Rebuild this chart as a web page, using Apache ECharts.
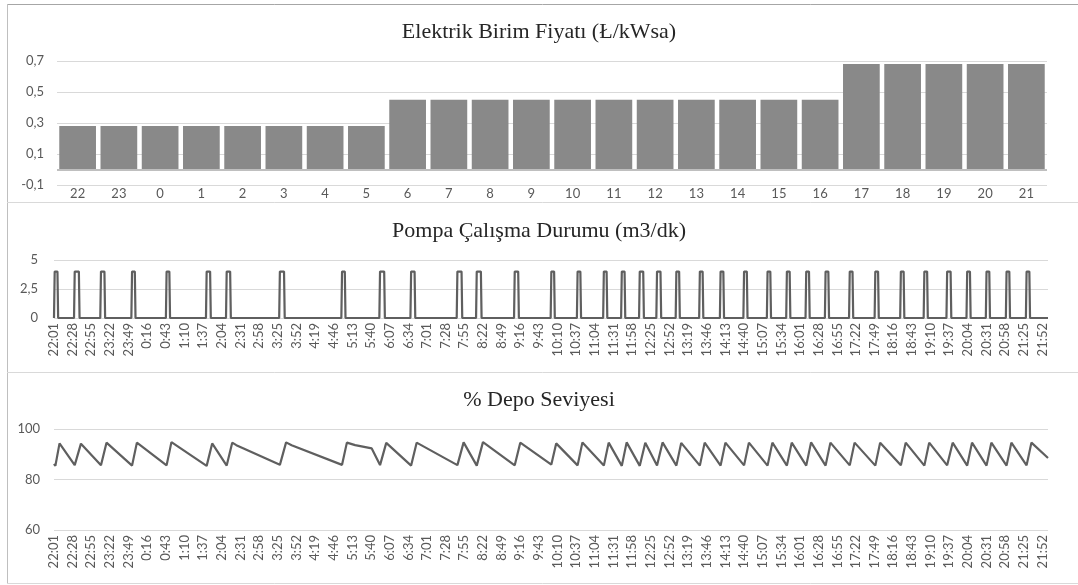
<!DOCTYPE html>
<html>
<head>
<meta charset="utf-8">
<script src="https://cdn.jsdelivr.net/npm/echarts@6/dist/echarts.min.js"></script>
<style>
  html, body { margin: 0; padding: 0; background: #fff; }
  #chart { width: 1078px; height: 585px; }
</style>
</head>
<body>
<div id="chart"></div>
<script>
// hourly price categories and values (TL/kWh)
const hours = ['22', '23', '0', '1', '2', '3', '4', '5', '6', '7', '8', '9', '10', '11',
  '12', '13', '14', '15', '16', '17', '18', '19', '20', '21'];
const prices = [0.28, 0.28, 0.28, 0.28, 0.28, 0.28, 0.28, 0.28, 0.45, 0.45, 0.45, 0.45,
  0.45, 0.45, 0.45, 0.45, 0.45, 0.45, 0.45, 0.68, 0.68, 0.68, 0.68, 0.68];

// time axis labels, one every 27 minutes starting 22:01
const timeTicks = ['22:01', '22:28', '22:55', '23:22', '23:49', '0:16', '0:43', '1:10', '1:37',
  '2:04', '2:31', '2:58', '3:25', '3:52', '4:19', '4:46', '5:13', '5:40', '6:07', '6:34', '7:01',
  '7:28', '7:55', '8:22', '8:49', '9:16', '9:43', '10:10', '10:37', '11:04', '11:31', '11:58',
  '12:25', '12:52', '13:19', '13:46', '14:13', '14:40', '15:07', '15:34', '16:01', '16:28',
  '16:55', '17:22', '17:49', '18:16', '18:43', '19:10', '19:37', '20:04', '20:31', '20:58',
  '21:25', '21:52'];
const tickStep = 27;     // minutes between labels
const lastMinute = 1439; // minutes after 22:01

// pump runs: [start minute, stop minute] after 22:01, flow in m3/min
const pumpFlow = 4;
const pumpRuns = [[0, 6], [29, 37], [67, 74], [112, 118], [162, 168], [220, 227], [249, 256],
  [326, 334], [416, 422], [471, 479], [516, 523], [583, 591], [611, 619], [666, 673],
  [719, 725], [757, 763], [795, 801], [821, 827], [847, 854], [872, 879], [900, 906],
  [934, 940], [964, 970], [998, 1004], [1032, 1038], [1060, 1066], [1088, 1094], [1116, 1122],
  [1151, 1157], [1188, 1194], [1225, 1231], [1259, 1265], [1292, 1299], [1321, 1327],
  [1349, 1355], [1378, 1384], [1407, 1413]];

// tank level (%) at [minute, level]
const tankLevel = [[0, 86.2], [2, 85.4], [8, 94.3], [30, 85.7], [39, 94.2], [68, 85.6], [76, 94.6],
  [113, 85.5], [120, 94.6], [163, 85.6], [170, 94.8], [221, 85.4], [229, 94.3], [250, 85.5],
  [258, 94.6], [264, 93.6], [327, 85.8], [336, 94.7], [344, 93.6], [417, 85.8], [424, 94.6],
  [436, 93.6], [460, 92.3], [472, 85.7], [481, 94.5], [517, 85.5], [525, 94.6], [584, 85.7],
  [593, 94.7], [612, 85.5], [621, 94.8], [667, 85.6], [675, 94.6], [720, 85.9], [727, 94.3],
  [758, 85.6], [765, 94.7], [796, 85.5], [803, 94.6], [822, 85.4], [829, 94.7], [848, 85.4],
  [856, 94.6], [873, 85.5], [881, 94.7], [901, 85.5], [908, 94.5], [935, 85.5], [942, 94.6],
  [965, 85.5], [972, 94.6], [999, 85.6], [1006, 94.6], [1033, 85.5], [1040, 94.6], [1061, 85.5],
  [1068, 94.6], [1089, 85.5], [1096, 94.7], [1117, 85.5], [1124, 94.6], [1152, 85.6],
  [1159, 94.6], [1189, 85.5], [1196, 94.6], [1226, 85.6], [1233, 94.6], [1260, 85.5],
  [1267, 94.6], [1293, 85.6], [1301, 94.6], [1322, 85.5], [1329, 94.6], [1350, 85.5],
  [1357, 94.6], [1379, 85.5], [1386, 94.6], [1408, 85.6], [1415, 94.6], [1439, 88.5]];

// step line points for the pump
const pumpData = [];
pumpRuns.forEach(([s, e]) => {
  pumpData.push([s, 0], [s + 1, pumpFlow], [e - 1, pumpFlow], [e, 0]);
});
pumpData.push([lastMinute, 0]);

const labelColor = '#595959';
const gridColor = '#d9d9d9';
const lineColor = '#5f5f5f';
const sans = 'Lato';
const serif = 'Liberation Serif';

const comma = v => String(v).replace('.', ',');
const timeLabel = v => {
  const i = v / tickStep;
  return Number.isInteger(i) && timeTicks[i] ? timeTicks[i] : '';
};

const titleStyle = { fontFamily: serif, fontSize: 22, fontWeight: 'normal', color: '#262626' };

const timeAxis = (idx, margin) => ({
  type: 'value', gridIndex: idx, min: 0, max: lastMinute, interval: tickStep,
  axisLine: { show: false }, axisTick: { show: false }, splitLine: { show: false },
  axisLabel: { rotate: 90, margin: margin, color: labelColor, fontFamily: sans, fontSize: 13,
    formatter: timeLabel, showMaxLabel: false }
});

const chart = echarts.init(document.getElementById('chart'), null, { renderer: 'canvas' });
chart.setOption({
  animation: false,
  backgroundColor: '#fff',
  title: [
    { text: 'Elektrik Birim Fiyatı (Ł/kWsa)', left: 'center', top: 16, textStyle: titleStyle },
    { text: 'Pompa Çalışma Durumu (m3/dk)', left: 'center', top: 215, textStyle: titleStyle },
    { text: '% Depo Seviyesi', left: 'center', top: 384, textStyle: titleStyle }
  ],
  graphic: [
    { type: 'line', shape: { x1: 7, y1: 4.5, x2: 1078, y2: 4.5 }, style: { stroke: '#a6a6a6', lineWidth: 1 } },
    { type: 'line', shape: { x1: 7.5, y1: 4, x2: 7.5, y2: 584 }, style: { stroke: '#bfbfbf', lineWidth: 1 } },
    { type: 'line', shape: { x1: 7, y1: 202.5, x2: 1078, y2: 202.5 }, style: { stroke: gridColor, lineWidth: 1 } },
    { type: 'line', shape: { x1: 7, y1: 372.5, x2: 1078, y2: 372.5 }, style: { stroke: gridColor, lineWidth: 1 } },
    { type: 'line', shape: { x1: 7, y1: 583.5, x2: 1078, y2: 583.5 }, style: { stroke: gridColor, lineWidth: 1 } }
  ],
  grid: [
    { left: 57, top: 61, width: 990, height: 124 },
    { left: 54, top: 260, width: 994, height: 58 },
    { left: 54, top: 429, width: 994, height: 101 }
  ],
  xAxis: [
    {
      type: 'category', gridIndex: 0, data: hours,
      axisLine: { show: false, onZero: false }, axisTick: { show: false },
      axisLabel: { margin: 2, color: labelColor, fontFamily: sans, fontSize: 13 }
    },
    timeAxis(1, 5),
    timeAxis(2, 5)
  ],
  yAxis: [
    {
      type: 'value', gridIndex: 0, min: -0.1, max: 0.7, interval: 0.1,
      axisLine: { show: false }, axisTick: { show: false },
      splitLine: { lineStyle: { color: [gridColor, 'transparent'] } },
      axisLabel: {
        margin: 13, color: labelColor, fontFamily: sans, fontSize: 13,
        formatter: v => {
          const k = Math.round(v * 10);
          return Math.abs(k) % 2 === 1 ? comma((k / 10).toFixed(1)) : '';
        }
      }
    },
    {
      type: 'value', gridIndex: 1, min: 0, max: 5, interval: 2.5,
      axisLine: { show: false }, axisTick: { show: false },
      splitLine: { lineStyle: { color: gridColor } },
      axisLabel: { margin: 16, color: labelColor, fontFamily: sans, fontSize: 13, formatter: comma }
    },
    {
      type: 'value', gridIndex: 2, min: 60, max: 100, interval: 20,
      axisLine: { show: false }, axisTick: { show: false },
      splitLine: { lineStyle: { color: gridColor } },
      axisLabel: { margin: 14, color: labelColor, fontFamily: sans, fontSize: 13 }
    }
  ],
  series: [
    {
      name: 'Elektrik Birim Fiyatı', type: 'bar', xAxisIndex: 0, yAxisIndex: 0,
      data: prices, barCategoryGap: '11%',
      itemStyle: { color: '#898989' },
      markLine: {
        silent: true, symbol: 'none', label: { show: false },
        lineStyle: { color: '#bfbfbf', width: 2, type: 'solid' },
        data: [{ yAxis: 0 }]
      }
    },
    {
      name: 'Pompa', type: 'line', xAxisIndex: 1, yAxisIndex: 1,
      data: pumpData, showSymbol: false,
      lineStyle: { color: lineColor, width: 2.2 }
    },
    {
      name: 'Depo', type: 'line', xAxisIndex: 2, yAxisIndex: 2,
      data: tankLevel, showSymbol: false,
      lineStyle: { color: lineColor, width: 2.2 }
    }
  ]
});
</script>
</body>
</html>
